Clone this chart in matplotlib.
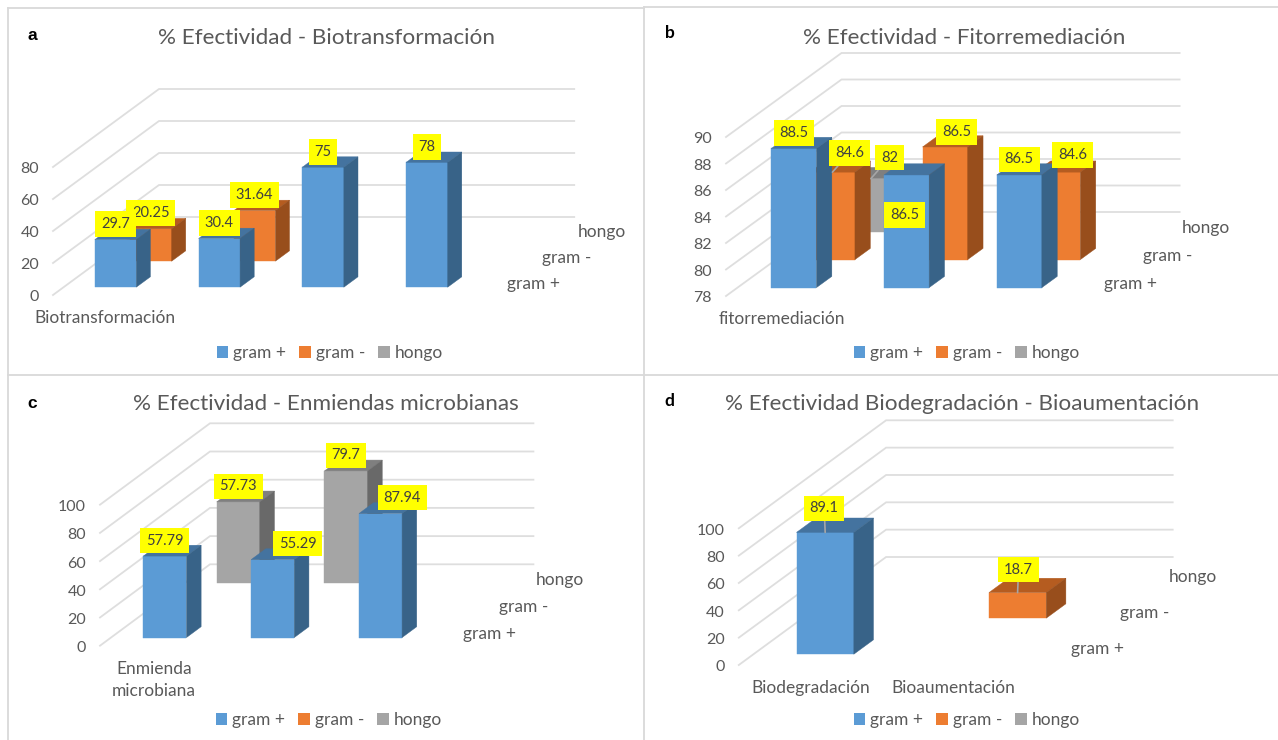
import matplotlib
matplotlib.use('Agg')
import matplotlib.pyplot as plt
from matplotlib.lines import Line2D
from matplotlib.patches import Patch, Polygon
from matplotlib.transforms import ScaledTranslation

plt.rcParams['font.family'] = ['Lato', 'DejaVu Sans']

W_PX, H_PX = 1278, 740

series_names = ['gram +', 'gram -', 'hongo']

# panel a
a_categories = ['Biotransformación', '', '', '']
a_gram_pos = [29.7, 30.4, 75, 78]
a_gram_neg = [20.25, 31.64, None, None]
a_hongo = [None, None, None, None]
a_ticks = [0, 20, 40, 60, 80]

# panel b
b_categories = ['fitorremediación', '', '']
b_gram_pos = [88.5, 86.5, 86.5]
b_gram_neg = [84.6, 86.5, 84.6]
b_hongo = [82, None, None]
b_ticks = [78, 80, 82, 84, 86, 88, 90]

# panel c
c_categories = ['Enmienda\nmicrobiana', '', '']
c_gram_pos = [57.79, 55.29, 87.94]
c_gram_neg = [None, None, None]
c_hongo = [57.73, 79.7, None]
c_ticks = [0, 20, 40, 60, 80, 100]

# panel d
d_categories = ['Biodegradación', 'Bioaumentación']
d_gram_pos = [89.1, None]
d_gram_neg = [None, 18.7]
d_hongo = [None, None]
d_ticks = [0, 20, 40, 60, 80, 100]

# front, top, side colours per series
COLORS = [('#5B9BD5', '#44739F', '#386388'),
          ('#ED7D31', '#B55C20', '#984E1C'),
          ('#A5A5A5', '#7F7F7F', '#696969')]
GRID = '#DEDEDE'
TEXT = '#595959'

# layout of each panel in pixels, and label offsets (series, category): (dx, dy, leader)
panels = [
    dict(letter='a', letter_font='Liberation Sans', letter_xy=(32.5, 35),
         title='% Efectividad - Biotransformación', title_xy=(326.5, 37.5),
         categories=a_categories, values=[a_gram_pos, a_gram_neg, a_hongo], ticks=a_ticks,
         x0=53, y0=295, cat_w=103.8, unit=1.6, depth=(106, 78), legend_xy=(330, 353),
         offsets={}),
    dict(letter='b', letter_font='Lato', letter_xy=(670, 33),
         title='% Efectividad - Fitorremediación', title_xy=(964, 37.5),
         categories=b_categories, values=[b_gram_pos, b_gram_neg, b_hongo], ticks=b_ticks,
         x0=726, y0=296, cat_w=112.7, unit=13.25, depth=(115.5, 84), legend_xy=(967, 353),
         offsets={(1, 0): (17, 19, True), (2, 0): (18.5, 21, True), (0, 1): (-2, -40, False),
                  (1, 1): (11.5, 15, False), (1, 2): (15, 17, False)}),
    dict(letter='c', letter_font='Liberation Sans', letter_xy=(32, 403),
         title='% Efectividad - Enmiendas microbianas', title_xy=(325.7, 404.5),
         categories=c_categories, values=[c_gram_pos, c_gram_neg, c_hongo], ticks=c_ticks,
         x0=100, y0=645.7, cat_w=107.8, unit=1.41, depth=(110, 81.4), legend_xy=(329, 720),
         offsets={(0, 1): (25, 16, False), (0, 2): (21.7, 16, False)}),
    dict(letter='d', letter_font='Lato', letter_xy=(669, 401),
         title='% Efectividad Biodegradación - Bioaumentación', title_xy=(962, 404.5),
         categories=d_categories, values=[d_gram_pos, d_gram_neg, d_hongo], ticks=d_ticks,
         x0=738.8, y0=665, cat_w=143.3, unit=1.367, depth=(147.3, 108), legend_xy=(967, 720),
         offsets={(0, 0): (-1, 24, True), (1, 1): (1, 23, True)}),
]


def fig_xy(x, y):
    return x / W_PX, 1 - y / H_PX


def draw_panel(fig, p):
    ncat = len(p['categories'])
    vmin, vmax = p['ticks'][0], p['ticks'][-1]
    left, bottom = fig_xy(p['x0'], p['y0'])
    ax = fig.add_axes([left, bottom, ncat * p['cat_w'] / W_PX, (vmax - vmin) * p['unit'] / H_PX])
    ax.set_xlim(0, ncat)
    ax.set_ylim(vmin, vmax)
    ax.patch.set_visible(False)
    for spine in ax.spines.values():
        spine.set_visible(False)

    # oblique projection: depth goes from 0 (front) to 3 (back wall)
    step_x = p['depth'][0] / 3 / p['cat_w']
    step_y = p['depth'][1] / 3 / p['unit']

    def pt(c, s, v):
        return c + s * step_x, v + s * step_y

    for v in p['ticks']:
        a, b, c = pt(0, 0, v), pt(0, 3, v), pt(ncat, 3, v)
        ax.plot([a[0], b[0], c[0]], [a[1], b[1], c[1]], color=GRID, lw=1.3, clip_on=False, zorder=1,
                solid_joinstyle='miter')

    # back series first so the front ones cover them
    z = 2
    for s in [2, 1, 0]:
        front, top, side = COLORS[s]
        for c, v in enumerate(p['values'][s]):
            if v is None:
                continue
            x0, x1, d0, d1 = c + 0.3, c + 0.7, s + 0.3, s + 0.7
            faces = [
                (front, [pt(x0, d0, vmin), pt(x1, d0, vmin), pt(x1, d0, v), pt(x0, d0, v)]),
                (top, [pt(x0, d0, v), pt(x1, d0, v), pt(x1, d1, v), pt(x0, d1, v)]),
                (side, [pt(x1, d0, vmin), pt(x1, d1, vmin), pt(x1, d1, v), pt(x1, d0, v)]),
            ]
            for color, verts in faces:
                ax.add_patch(Polygon(verts, closed=True, facecolor=color, edgecolor=color, lw=0.3,
                                     clip_on=False, zorder=z))
            z += 1

    # data labels go above all of the bars
    for s in [2, 1, 0]:
        for c, v in enumerate(p['values'][s]):
            if v is None:
                continue
            dx, dy, leader = p['offsets'].get((s, c), (0, 15.5, False))
            arrow = dict(arrowstyle='-', color='#A6A6A6', lw=1.2, shrinkA=0, shrinkB=0) if leader else None
            ax.annotate(f'{v:g}', xy=pt(c + 0.5, s + 0.3, v), xytext=(dx, dy), textcoords='offset pixels',
                        ha='center', va='center', fontsize=10.5, color='#404040', annotation_clip=False,
                        bbox=dict(boxstyle='square,pad=0.4', facecolor='#FFFF00', edgecolor='none'),
                        arrowprops=arrow, zorder=50)

    # y axis, category axis
    ax.set_yticks(p['ticks'])
    ax.set_xticks([i + 0.5 for i in range(ncat)])
    ax.set_xticklabels(p['categories'], linespacing=1.5)
    ax.tick_params(axis='y', length=0, pad=10, labelsize=11.5, labelcolor=TEXT)
    ax.tick_params(axis='x', length=0, pad=11, labelsize=12.5, labelcolor=TEXT)
    nudge = ScaledTranslation(0, -0.7 / 72, fig.dpi_scale_trans)
    for label in ax.get_yticklabels():
        label.set_transform(label.get_transform() + nudge)

    # series axis labels
    for s, name in enumerate(series_names):
        ax.annotate(name, xy=pt(ncat, s + 0.5, vmin), xytext=(21, -2), textcoords='offset pixels',
                    ha='left', va='center', fontsize=12.5, color=TEXT, annotation_clip=False)

    handles = [Patch(facecolor=COLORS[i][0], label=series_names[i]) for i in range(3)]
    ax.legend(handles=handles, loc='center', bbox_to_anchor=fig_xy(*p['legend_xy']),
              bbox_transform=fig.transFigure, ncol=3, frameon=False, fontsize=12.5, labelcolor=TEXT,
              handlelength=0.65, handleheight=0.65, handletextpad=0.3, columnspacing=0.75)

    tx, ty = fig_xy(*p['title_xy'])
    fig.text(tx, ty, p['title'], ha='center', va='center', fontsize=16.2, color=TEXT)
    lx, ly = fig_xy(*p['letter_xy'])
    fig.text(lx, ly, p['letter'], ha='center', va='center', fontsize=12.5, fontweight='bold', color='black',
             family=p['letter_font'])


fig = plt.figure(figsize=(W_PX / 100, H_PX / 100), dpi=100, facecolor='white')

# panel frames
for xs, ys in [((7.5, 644), (8, 8)), ((644, 1278), (7, 7)), ((7.5, 1278), (375, 375)),
               ((7.5, 7.5), (8, 740)), ((644, 644), (7, 740))]:
    fig.add_artist(Line2D([x / W_PX for x in xs], [1 - y / H_PX for y in ys], color='#D9D9D9', lw=1.3))

for panel in panels:
    draw_panel(fig, panel)

fig.savefig('out.png', dpi=100)
